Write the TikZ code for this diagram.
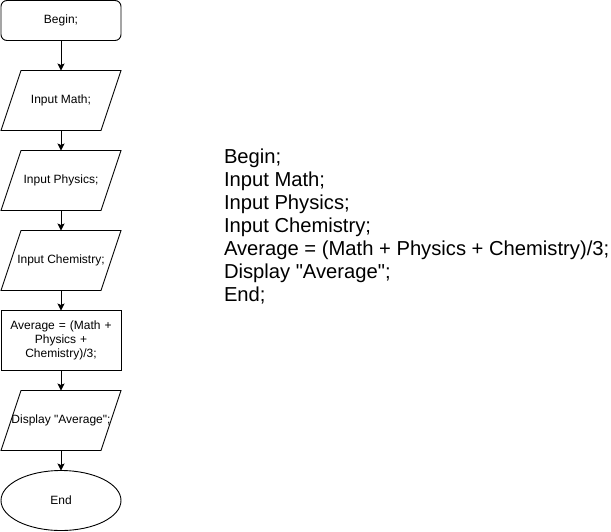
\documentclass[tikz,border=0pt]{standalone}
\usepackage{fontspec}
\setmainfont{Liberation Sans}
\usetikzlibrary{shapes.geometric,arrows.meta,positioning}
\tikzset{>={Stealth[length=7pt,width=7pt,inset=1.5pt]}}

\begin{document}
\begin{tikzpicture}[x=1pt,y=-1pt,line width=0.9pt,
    every node/.style={font=\fontsize{12}{14}\selectfont,inner sep=0pt,outer sep=0pt,align=center},
    term/.style={draw,rounded corners=6pt,minimum width=120pt,minimum height=40pt},
    io/.style={minimum width=120pt,minimum height=60pt},
    proc/.style={draw,minimum width=120pt,minimum height=60pt,text width=110pt},
    stop/.style={draw,ellipse,minimum width=120pt,minimum height=60pt},
    node distance=20pt]
    \useasboundingbox (0,0) rectangle (611,531);

    \node [term] (begin) at (61,20.5) {Begin;};
    \node [io,below=30pt of begin] (math) {Input Math;};
    \node [io,below=of math] (phys) {Input Physics;};
    \node [io,below=of phys] (chem) {Input Chemistry;};
    \node [proc,below=of chem] (avg) {Average = (Math +\\ Physics +\\ Chemistry)/3;};
    \node [io,below=of avg] (show) {Display \textquotedbl Average\textquotedbl;};
    \node [stop,below=of show] (end) {End};

    % parallelograms for the input/output steps
    \foreach \n in {math,phys,chem,show}
      \draw ([xshift=20pt]\n.north west) -- (\n.north east)
        -- ([xshift=-20pt]\n.south east) -- (\n.south west) -- cycle;

    \draw [->] (begin) -- (math);
    \draw [->] (math) -- (phys);
    \draw [->] (phys) -- (chem);
    \draw [->] (chem) -- (avg);
    \draw [->] (avg) -- (show);
    \draw [->] (show) -- (end);

    % pseudocode
    \node [anchor=west,align=left,font=\fontsize{20.2}{23}\selectfont] (code) at (224,226)
      {Begin;\\ Input Math;\\ Input Physics;\\ Input Chemistry;\\
       Average = (Math + Physics + Chemistry)/3;\\ Display \textquotedbl Average\textquotedbl;\\ End;};
  \end{tikzpicture}
\end{document}
